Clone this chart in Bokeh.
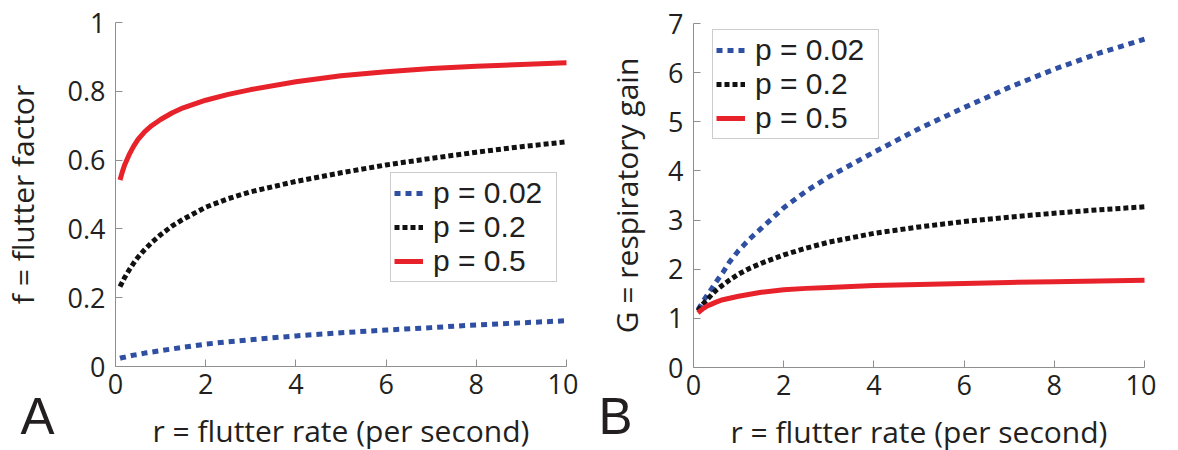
from bokeh.plotting import figure
from bokeh.layouts import row
from bokeh.models import FixedTicker, Label, Legend, LegendItem
from bokeh.embed import file_html
from bokeh.resources import INLINE

# ---- data ----
r = [0.1, 0.15, 0.2, 0.3, 0.4, 0.5, 0.65, 0.8, 1, 1.25, 1.5, 2, 2.5, 3, 4, 5, 6, 7, 8, 9, 10]

# Panel A: f = flutter factor
f_p002 = [0.024, 0.026, 0.027, 0.030, 0.033, 0.035, 0.039, 0.042, 0.046, 0.051, 0.056,
          0.065, 0.072, 0.078, 0.089, 0.098, 0.106, 0.113, 0.121, 0.127, 0.133]
f_p02 = [0.232, 0.245, 0.258, 0.280, 0.300, 0.318, 0.340, 0.360, 0.383, 0.408, 0.428,
         0.463, 0.488, 0.508, 0.538, 0.563, 0.586, 0.605, 0.623, 0.639, 0.653]
f_p05 = [0.542, 0.565, 0.585, 0.615, 0.640, 0.660, 0.683, 0.700, 0.718, 0.737, 0.752,
         0.774, 0.791, 0.805, 0.828, 0.845, 0.857, 0.866, 0.873, 0.878, 0.883]

# Panel B: G = respiratory gain
g_p002 = [1.18, 1.25, 1.33, 1.47, 1.60, 1.74, 1.93, 2.15, 2.38, 2.62, 2.83,
          3.25, 3.59, 3.88, 4.38, 4.86, 5.29, 5.70, 6.07, 6.40, 6.68]
g_p02 = [1.15, 1.22, 1.28, 1.38, 1.48, 1.57, 1.68, 1.78, 1.90, 2.02, 2.12,
         2.29, 2.43, 2.55, 2.73, 2.86, 2.97, 3.06, 3.14, 3.21, 3.27]
g_p05 = [1.11, 1.15, 1.19, 1.25, 1.29, 1.33, 1.38, 1.41, 1.45, 1.49, 1.53,
         1.58, 1.61, 1.63, 1.67, 1.69, 1.71, 1.73, 1.745, 1.76, 1.775]

series_labels = ["p = 0.02", "p = 0.2", "p = 0.5"]

x_ticks = [0, 2, 4, 6, 8, 10]
x_tick_labels = ["0", "2", "4", "6", "8", "10"]
yA_ticks = [0, 0.2, 0.4, 0.6, 0.8, 1]
yA_tick_labels = ["0", "0.2", "0.4", "0.6", "0.8", "1"]
yB_ticks = [0, 1, 2, 3, 4, 5, 6, 7]
yB_tick_labels = ["0", "1", "2", "3", "4", "5", "6", "7"]

FONT = "Open Sans"
LEG_FONT = "Liberation Sans"
TXT = "#231f20"
AX = "#8f8f8f"
BLUE = "#2f4fa2"
BLACK = "#111111"
RED = "#e8222a"

# ---- layout geometry (pixels inside each 578x450 figure) ----
W, H = 578, 450
X0_PX, X10_PX = 115, 566      # where r=0 and r=10 sit


def make_panel(ys, ymax, yticks, ylabels, ylabel, letter, letter_x,
               legend_loc, ylab_standoff, ytop_px, yzero_px):
    xppu = (X10_PX - X0_PX) / 10.0
    x_range = (-X0_PX / xppu, 10 + (W - X10_PX) / xppu)
    yppu = (yzero_px - ytop_px) / ymax
    y_range = (-(H - yzero_px) / yppu, ymax + ytop_px / yppu)

    p = figure(width=W, height=H, x_range=x_range, y_range=y_range,
               output_backend="svg", toolbar_location=None,
               min_border=0, min_border_left=0, min_border_right=0,
               min_border_top=0, min_border_bottom=0)
    p.outline_line_color = None
    p.grid.visible = False
    p.background_fill_color = "white"
    p.border_fill_color = "white"

    styles = [dict(color=BLUE, line_width=5, line_dash="6 5"),
              dict(color=BLACK, line_width=5, line_dash="5 3"),
              dict(color=RED, line_width=5, line_dash="solid")]
    items = []
    for yv, st, lab in zip(ys, styles, series_labels):
        rr = p.line(r, yv, line_color=st["color"], line_width=st["line_width"],
                    line_dash=st["line_dash"], line_cap="butt", line_join="round")
        items.append(LegendItem(label=lab, renderers=[rr]))

    leg = Legend(items=items, location=legend_loc,
                 label_text_font=LEG_FONT, label_text_font_size="30px", label_text_color=TXT,
                 glyph_width=29, glyph_height=20, label_standoff=10,
                 padding=3, spacing=0, margin=0, label_height=20, label_width=120,
                 border_line_color="#9a9a9a", border_line_width=1,
                 background_fill_color="white", background_fill_alpha=1.0)
    p.add_layout(leg, "center")

    p.xaxis.ticker = FixedTicker(ticks=x_ticks)
    p.xaxis.major_label_overrides = dict(zip(x_ticks, x_tick_labels))
    p.yaxis.ticker = FixedTicker(ticks=yticks)
    p.yaxis.major_label_overrides = dict(zip(yticks, ylabels))
    p.xaxis.fixed_location = 0
    p.yaxis.fixed_location = 0
    p.xaxis.bounds = (0, 10)
    p.yaxis.bounds = (0, ymax)

    for ax in (p.xaxis, p.yaxis):
        ax.axis_line_color = AX
        ax.axis_line_width = 1
        ax.major_tick_line_color = AX
        ax.major_tick_in = 7
        ax.major_tick_out = 0
        ax.minor_tick_line_color = None
        ax.major_label_text_font = FONT
        ax.major_label_text_font_size = "27px"
        ax.major_label_text_color = TXT
        ax.axis_label_text_font = FONT
        ax.axis_label_text_font_size = "30px"
        ax.axis_label_text_font_style = "normal"
        ax.axis_label_text_color = TXT

    p.xaxis.axis_label = "r = flutter rate (per second)"
    p.yaxis.axis_label = ylabel
    p.xaxis.major_label_standoff = 7
    p.yaxis.major_label_standoff = 10
    p.xaxis.axis_label_standoff = 13
    p.yaxis.axis_label_standoff = ylab_standoff

    p.add_layout(Label(x=letter_x, y=34, x_units="screen", y_units="screen", text=letter,
                       text_font=LEG_FONT, text_font_size="51px", text_color=TXT,
                       text_baseline="alphabetic", text_align="left"))
    return p


pA = make_panel([f_p002, f_p02, f_p05], 1, yA_ticks, yA_tick_labels,
                "f = flutter factor", "A", 20, (390, 168), 22, 22, 366)
pB = make_panel([g_p002, g_p02, g_p05], 7, yB_ticks, yB_tick_labels,
                "G = respiratory gain", "B", 20, (134, 311), 18, 23, 367)

layout = row(pA, pB)
open("out.html", "w").write(file_html(layout, INLINE))
